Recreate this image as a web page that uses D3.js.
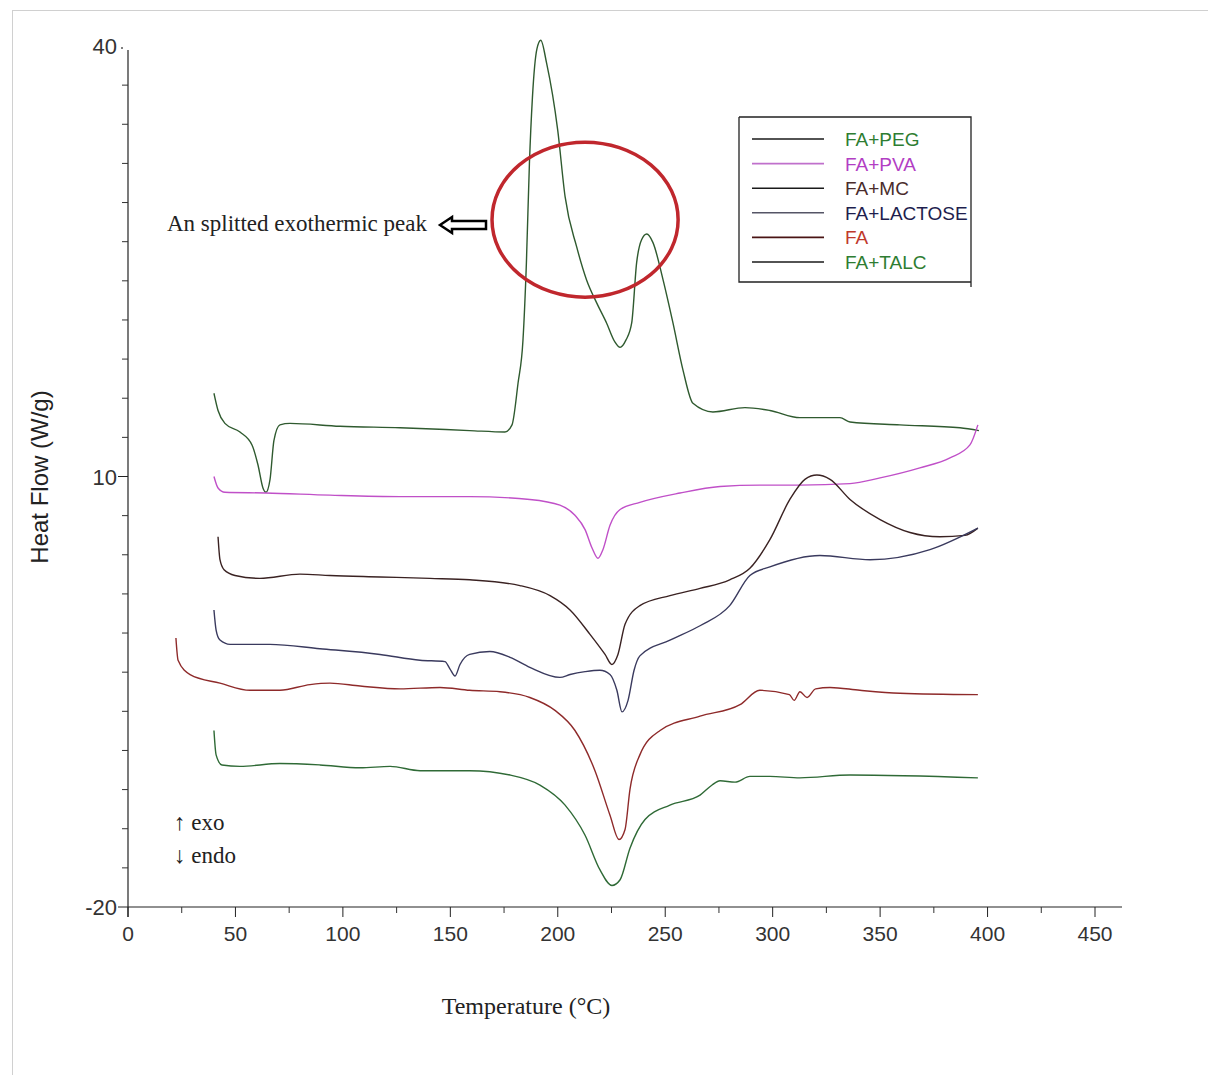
<!DOCTYPE html>
<html>
<head>
<meta charset="utf-8">
<script src="https://cdn.jsdelivr.net/npm/d3@7"></script>
<style>
  body { margin: 0; background: #fff; }
  svg text { fill: #222; }
</style>
</head>
<body>
<div id="chart"></div>
<script>
// DSC curves, [temperature °C, heat flow W/g]
const pegData = [[40,15.8],[41.9,14.6],[45.1,13.7],[52.1,13.1],[57.7,12.2],[60.5,10.8],[62.8,9.2],[64.2,8.9],[66.1,9.8],[67.9,12.5],[70.7,13.6],[75.4,13.7],[98.6,13.5],[126.6,13.4],[159,13.2],[175.4,13.1],[178.7,13.6],[181.5,16.5],[183.8,19.5],[185.4,24.9],[186.8,31.8],[188.2,36.4],[190.3,39.8],[192.1,40.4],[194.8,38.8],[200,34.1],[203.4,29.5],[208.8,26.0],[213.4,23.7],[218.1,22.1],[222.7,20.7],[226.5,19.4],[229,19.0],[231.7,19.5],[234.4,20.7],[236.7,24.9],[239,26.5],[241.4,26.9],[244.3,26.3],[249,23.7],[253.6,20.7],[258.3,17.4],[262.9,15.1],[272.2,14.5],[287.1,14.8],[298.7,14.6],[312.7,14.1],[331.3,14.1],[336,13.8],[359.2,13.6],[387.2,13.4],[396,13.2]];
const pvaData = [[40,10.0],[41.9,9.2],[45.1,8.9],[64.2,8.85],[94,8.7],[126.6,8.6],[159,8.6],[187,8.4],[201,8.0],[208,7.3],[212.7,6.3],[216,5.0],[218.7,4.3],[221,4.9],[224.3,6.6],[229,7.7],[238.2,8.2],[256.9,8.85],[275.5,9.3],[294,9.4],[312.7,9.4],[336,9.5],[350,9.9],[368.5,10.6],[382.5,11.3],[391.8,12.2],[395.5,13.6]];
const mcData = [[41.9,5.8],[42.8,4.2],[44.7,3.5],[49.8,3.1],[61.4,2.9],[80,3.2],[94,3.1],[117.3,3.0],[140.5,2.9],[159,2.8],[182.4,2.4],[196.4,1.7],[205.7,0.7],[215,-1.0],[222,-2.4],[225.2,-3.1],[228,-2.4],[231.3,-0.3],[238.2,1.0],[252.2,1.7],[266.2,2.2],[280,2.8],[289.4,3.6],[298.7,5.6],[308,8.4],[315,9.8],[320.6,10.1],[326.7,9.8],[336,8.4],[350,7.0],[363.9,6.1],[377.8,5.8],[389.5,5.9],[395.5,6.4]];
const lactoseData = [[40,0.7],[41,-0.7],[42.8,-1.4],[47.5,-1.7],[66,-1.7],[89.3,-2.0],[117.3,-2.4],[135.9,-2.8],[147.5,-2.9],[149.8,-3.4],[152.2,-3.9],[154.5,-3.1],[159,-2.4],[168.4,-2.2],[177.8,-2.6],[187,-3.3],[201,-4.0],[205.7,-3.8],[212.7,-3.6],[219.6,-3.5],[224.3,-3.8],[227.5,-4.9],[229.9,-6.4],[232.7,-5.6],[235.5,-3.5],[238.2,-2.5],[252.2,-1.4],[266.2,-0.4],[280,1.0],[289.4,3.1],[298.7,3.7],[322,4.5],[345.3,4.2],[373.2,4.9],[395.5,6.4]];
const faData = [[22.3,-1.25],[23.3,-2.8],[28.9,-3.8],[42.8,-4.4],[56.8,-4.9],[70.7,-4.9],[84.7,-4.5],[94,-4.4],[108,-4.6],[126.6,-4.8],[145.2,-4.7],[159,-4.9],[173.1,-5.0],[187,-5.4],[198.7,-6.3],[208,-7.7],[217.3,-10.5],[224.3,-13.6],[228.5,-15.3],[231.3,-14.6],[233.6,-11.8],[238.2,-9.4],[247.6,-7.7],[266.2,-6.7],[284.8,-5.9],[294,-4.9],[307.8,-5.2],[310,-5.6],[312.7,-5.0],[316,-5.4],[320,-4.8],[326.7,-4.7],[340.6,-4.9],[359.2,-5.1],[395.5,-5.2]];
const talcData = [[40,-7.7],[41,-9.4],[43.7,-10.1],[52.1,-10.2],[70.7,-10.0],[89.3,-10.1],[108,-10.3],[122,-10.2],[135.9,-10.5],[159,-10.5],[177.8,-10.8],[191.7,-11.5],[203.4,-12.9],[212.7,-15.0],[219.6,-17.4],[225.2,-18.5],[229,-18.1],[233.6,-15.9],[240.6,-13.9],[252.2,-12.9],[266.2,-12.2],[271.8,-11.5],[275.5,-11.2],[282.5,-11.3],[289.4,-10.9],[298.7,-10.9],[312.7,-11.0],[336,-10.8],[395.5,-11.0]];

const seriesNames = ["FA+PEG", "FA+PVA", "FA+MC", "FA+LACTOSE", "FA", "FA+TALC"];
const seriesData = [pegData, pvaData, mcData, lactoseData, faData, talcData];
const lineColors = ["#2f5a2f", "#c050c8", "#3a2222", "#3a3a5e", "#8e2a2a", "#2f6a36"];
const labelColors = ["#2e7d32", "#b23ec4", "#4a2c2c", "#1e1e4e", "#c0392b", "#2e7d32"];
const legendLineColors = ["#1a1a1a", "#c070cc", "#1a1a1a", "#555566", "#4a1414", "#1a1a1a"];

const xTicks = [0, 50, 100, 150, 200, 250, 300, 350, 400, 450];
const yLabels = [40, 10, -20];

const width = 1208, height = 1075;
const svg = d3.select("#chart").append("svg")
    .attr("width", width).attr("height", height);

// outer frame
svg.append("rect").attr("x", 12.5).attr("y", 10.5)
    .attr("width", width - 12).attr("height", height - 10)
    .attr("fill", "none").attr("stroke", "#d0d0d0");

const x = d3.scaleLinear().domain([0, 450]).range([128, 1095]);
const y = d3.scaleLinear().domain([-20, 40]).range([907, 46]);

// x axis
const xAxisG = svg.append("g").attr("transform", "translate(0," + y(-20) + ")");
xAxisG.append("line").attr("x1", x(0)).attr("x2", 1122)
    .attr("stroke", "#222").attr("stroke-width", 1.2);
xAxisG.selectAll(".minor").data(d3.range(25, 451, 50)).enter()
    .append("line").attr("x1", d => x(d)).attr("x2", d => x(d))
    .attr("y1", 0).attr("y2", 6).attr("stroke", "#333");
xAxisG.selectAll(".major").data(xTicks).enter()
    .append("line").attr("x1", d => x(d)).attr("x2", d => x(d))
    .attr("y1", 0).attr("y2", 10).attr("stroke", "#222");
xAxisG.selectAll("text").data(xTicks).enter()
    .append("text").attr("x", d => x(d)).attr("y", 34)
    .attr("text-anchor", "middle")
    .style("font", "21px 'Liberation Sans', Arial, sans-serif")
    .style("fill", "#333")
    .text(d => d);

// y axis
const yAxisG = svg.append("g");
yAxisG.append("line").attr("x1", x(0)).attr("x2", x(0))
    .attr("y1", y(40) + 4).attr("y2", y(-20) + 10)
    .attr("stroke", "#222").attr("stroke-width", 1.2);
const yStep = 30 / 11;
const yMinor = d3.range(1, 11).map(i => 40 - i * yStep)
    .concat(d3.range(1, 11).map(i => 10 - i * yStep));
yAxisG.selectAll(".minor").data(yMinor).enter()
    .append("line").attr("x1", x(0) - 6).attr("x2", x(0))
    .attr("y1", d => y(d)).attr("y2", d => y(d)).attr("stroke", "#333");
yAxisG.selectAll(".major").data([10, -20]).enter()
    .append("line").attr("x1", x(0) - 10).attr("x2", x(0))
    .attr("y1", d => y(d)).attr("y2", d => y(d)).attr("stroke", "#222");
yAxisG.append("circle").attr("cx", x(0) - 6).attr("cy", y(40) + 2).attr("r", 1).attr("fill", "#555");
yAxisG.selectAll("text").data(yLabels).enter()
    .append("text").attr("x", x(0) - 11).attr("y", d => y(d) + 8)
    .attr("text-anchor", "end")
    .style("font", "22px 'Liberation Sans', Arial, sans-serif")
    .style("fill", "#333")
    .text(d => d);

// curves
const line = d3.line().x(d => x(d[0])).y(d => y(d[1])).curve(d3.curveMonotoneX);
svg.selectAll(".curve").data(seriesData).enter()
    .append("path").attr("class", "curve")
    .attr("d", line)
    .attr("fill", "none")
    .attr("stroke", (d, i) => lineColors[i])
    .attr("stroke-width", 1.4);

// highlight ellipse around split peak
svg.append("ellipse")
    .attr("cx", x(212.7)).attr("cy", y(27.9))
    .attr("rx", x(43.3) - x(0)).attr("ry", y(0) - y(5.4))
    .attr("fill", "none").attr("stroke", "#c0272d").attr("stroke-width", 3.5);

// hollow arrow
const ax = 440, ay = 225;
svg.append("path")
    .attr("d", `M${ax},${ay} L${ax + 12},${ay - 8} L${ax + 12},${ay - 4} L${ax + 46},${ay - 4} L${ax + 46},${ay + 4} L${ax + 12},${ay + 4} L${ax + 12},${ay + 8} Z`)
    .attr("fill", "#fff").attr("stroke", "#000").attr("stroke-width", 2.5)
    .attr("stroke-linejoin", "miter");

svg.append("text").attr("x", 167).attr("y", 231)
    .style("font", "23px 'Liberation Serif', 'Times New Roman', serif")
    .text("An splitted exothermic peak");

// legend
const lg = svg.append("g");
lg.append("path").attr("d", "M739,117 L971,117 L971,287 M739,117 L739,282 L971,282")
    .attr("fill", "none").attr("stroke", "#222").attr("stroke-width", 1.3);
seriesNames.forEach((name, i) => {
    const ly = 139 + i * 24.6;
    lg.append("line").attr("x1", 752).attr("x2", 824).attr("y1", ly).attr("y2", ly)
        .attr("stroke", legendLineColors[i]).attr("stroke-width", 1.6);
    lg.append("text").attr("x", 845).attr("y", ly + 7)
        .style("font", "19px 'Liberation Sans', Arial, sans-serif")
        .style("fill", labelColors[i])
        .text(name);
});

// exo / endo note
svg.append("text").attr("x", 174).attr("y", 830)
    .style("font", "23px 'Liberation Serif', 'Times New Roman', serif")
    .text("\u2191 exo");
svg.append("text").attr("x", 174).attr("y", 863)
    .style("font", "23px 'Liberation Serif', 'Times New Roman', serif")
    .text("\u2193 endo");

// axis titles
svg.append("text")
    .attr("transform", "translate(48,477) rotate(-90)")
    .attr("text-anchor", "middle")
    .style("font", "24px 'Liberation Sans', Arial, sans-serif")
    .text("Heat Flow (W/g)");
svg.append("text").attr("x", 526).attr("y", 1014)
    .attr("text-anchor", "middle")
    .style("font", "24px 'Liberation Serif', 'Times New Roman', serif")
    .text("Temperature (\u00B0C)");
</script>
</body>
</html>
